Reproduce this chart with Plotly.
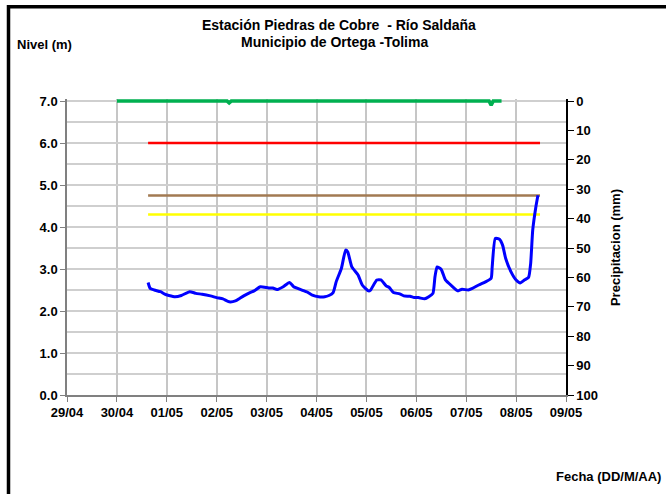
import plotly.graph_objects as go

# ---------------- data ----------------
level_time = [
    "2011-04-30 15:00", "2011-04-30 16:00", "2011-04-30 18:00", "2011-04-30 21:00", "2011-04-30 23:00",
    "2011-05-01 01:00", "2011-05-01 04:00", "2011-05-01 07:00", "2011-05-01 11:00", "2011-05-01 14:00",
    "2011-05-01 17:00", "2011-05-01 21:00",
    "2011-05-02 00:00", "2011-05-02 03:00", "2011-05-02 06:00", "2011-05-02 09:00", "2011-05-02 11:00",
    "2011-05-02 13:00", "2011-05-02 16:00", "2011-05-02 18:00", "2011-05-02 21:00",
    "2011-05-03 01:00", "2011-05-03 03:00", "2011-05-03 05:00", "2011-05-03 08:00", "2011-05-03 11:00",
    "2011-05-03 13:00", "2011-05-03 17:00", "2011-05-03 20:00", "2011-05-03 22:00",
    "2011-05-04 01:00", "2011-05-04 04:00", "2011-05-04 06:00", "2011-05-04 08:00", "2011-05-04 09:30",
    "2011-05-04 12:00", "2011-05-04 14:00", "2011-05-04 15:00", "2011-05-04 17:00", "2011-05-04 20:00",
    "2011-05-04 22:00",
    "2011-05-05 01:00", "2011-05-05 02:00", "2011-05-05 05:00", "2011-05-05 07:00", "2011-05-05 09:30",
    "2011-05-05 11:00", "2011-05-05 13:00", "2011-05-05 16:00", "2011-05-05 18:00", "2011-05-05 21:00",
    "2011-05-05 23:00",
    "2011-05-06 01:00", "2011-05-06 04:00", "2011-05-06 06:00", "2011-05-06 08:00", "2011-05-06 09:00",
    "2011-05-06 10:00", "2011-05-06 12:00", "2011-05-06 14:00", "2011-05-06 17:00", "2011-05-06 20:00",
    "2011-05-06 22:00",
    "2011-05-07 01:00", "2011-05-07 03:00", "2011-05-07 06:00", "2011-05-07 09:30", "2011-05-07 12:00",
    "2011-05-07 12:30", "2011-05-07 14:00", "2011-05-07 16:00", "2011-05-07 17:30", "2011-05-07 19:00",
    "2011-05-07 21:30",
    "2011-05-08 00:00", "2011-05-08 02:00", "2011-05-08 04:00", "2011-05-08 06:00", "2011-05-08 07:00",
    "2011-05-08 08:00", "2011-05-08 09:30", "2011-05-08 10:30",
]
level_m = [
    2.68, 2.54, 2.50, 2.46, 2.40,
    2.37, 2.34, 2.37, 2.46, 2.42, 2.40, 2.36,
    2.32, 2.29, 2.22, 2.24, 2.30, 2.36, 2.44, 2.48, 2.58,
    2.55, 2.55, 2.51, 2.58, 2.68, 2.58, 2.50, 2.44, 2.38,
    2.34, 2.34, 2.37, 2.44, 2.70, 3.02, 3.45, 3.41, 3.05, 2.86, 2.62,
    2.48, 2.50, 2.74, 2.74, 2.60, 2.56, 2.44, 2.41, 2.36, 2.35, 2.32,
    2.32, 2.29, 2.34, 2.42, 2.82, 3.05, 2.99, 2.74, 2.60, 2.48, 2.52,
    2.50, 2.54, 2.62, 2.70, 2.78, 3.05, 3.73, 3.71, 3.57, 3.25, 2.94,
    2.74, 2.67, 2.74, 2.80, 3.13, 3.93, 4.48, 4.76,
]

precip_time = [
    "2011-04-30 00:00", "2011-05-02 05:00", "2011-05-02 06:00", "2011-05-02 07:00",
    "2011-05-07 11:00", "2011-05-07 12:00", "2011-05-07 13:00", "2011-05-07 17:00",
]
precip_mm = [0, 0, 0.6, 0, 0, 1.4, 0, 0]

threshold_time = ["2011-04-30 15:00", "2011-05-08 11:30"]
threshold_red = [6.0, 6.0]
threshold_brown = [4.75, 4.75]
threshold_yellow = [4.3, 4.3]

x_start, x_end = "2011-04-29 00:00", "2011-05-09 00:00"

# ---------------- layout helpers ----------------
W, H = 666, 494
PL, PR, PB = 67, 566, 395        # plot area edges in pixels
Y7 = 101                         # pixel row of the 7.0 / 0 mm line
PAD = 0.05                       # small headroom so the 0 mm line isn't clipped
px_per_m = (PB - Y7) / 7.0
px_per_mm = (PB - Y7) / 100.0
PT = Y7 - PAD * px_per_m


def px_x(px):
    return (px - PL) / (PR - PL)


def px_y(py):
    return (PB - py) / (PB - PT)


FONT = "Liberation Sans, Arial, sans-serif"

fig = go.Figure()

fig.add_trace(go.Scatter(x=threshold_time, y=threshold_red, mode="lines",
                         line=dict(color="#ff0000", width=2.5), showlegend=False))
fig.add_trace(go.Scatter(x=threshold_time, y=threshold_brown, mode="lines",
                         line=dict(color="#a27a52", width=2.5), showlegend=False))
fig.add_trace(go.Scatter(x=threshold_time, y=threshold_yellow, mode="lines",
                         line=dict(color="#ffff00", width=2.5), showlegend=False))
fig.add_trace(go.Scatter(x=level_time, y=level_m, mode="lines",
                         line=dict(color="#0000ff", width=3, shape="spline", smoothing=0.5),
                         showlegend=False))
fig.add_trace(go.Scatter(x=precip_time, y=precip_mm, mode="lines", yaxis="y2",
                         line=dict(color="#00b050", width=3.5), showlegend=False))

tickfont = dict(family=FONT, size=13, color="#000000", weight="bold")

# frame path (left and top edges) in paper coordinates
frame_path = "M {:.5f},{:.5f} L {:.5f},{:.5f} L {:.5f},{:.5f}".format(
    px_x(8.5), px_y(500), px_x(8.5), px_y(6.5), px_x(672), px_y(6.5))

fig.update_layout(
    width=W, height=H,
    margin=dict(l=PL, r=W - PR, t=PT, b=H - PB, pad=0),
    paper_bgcolor="white", plot_bgcolor="white",
    font=dict(family=FONT, size=13, color="#000000"),
    xaxis=dict(
        type="date", range=[x_start, x_end], dtick=86400000, tick0="2011-04-29",
        tickformat="%d/%m", tickfont=tickfont,
        showgrid=True, gridcolor="#c6c6c6", gridwidth=1.5,
        showline=True, linecolor="#808080", linewidth=1.5,
        ticks="outside", ticklen=5, tickcolor="#808080", tickwidth=1,
        zeroline=False,
    ),
    yaxis=dict(
        range=[0, 7 + PAD], dtick=1, tick0=0, tickformat=".1f", tickfont=tickfont,
        showgrid=True, gridcolor="#cfcfcf", gridwidth=1.5,
        minor=dict(dtick=0.5, tick0=0, showgrid=True, gridcolor="#cfcfcf", gridwidth=1.5, ticks=""),
        showline=True, linecolor="#808080", linewidth=1.5,
        ticks="outside", ticklen=5, tickcolor="#808080", tickwidth=1,
        zeroline=False,
    ),
    yaxis2=dict(
        overlaying="y", side="right", range=[100, -PAD * px_per_m / px_per_mm],
        dtick=10, tick0=0,
        tickfont=tickfont, showgrid=False, zeroline=False,
        showline=True, linecolor="#000000", linewidth=1.5,
        ticks="outside", ticklen=6, tickcolor="#000000", tickwidth=1,
    ),
    shapes=[
        dict(type="path", xref="paper", yref="paper", layer="above",
             path=frame_path, line=dict(color="#000000", width=3.5)),
    ],
    annotations=[
        dict(text="<b>Estación Piedras de Cobre  - Río Saldaña</b>", xref="paper", yref="paper",
             x=px_x(339), y=px_y(25), xanchor="center", yanchor="middle", showarrow=False,
             font=dict(family=FONT, size=14)),
        dict(text="<b>Municipio de Ortega -Tolima</b>", xref="paper", yref="paper",
             x=px_x(334), y=px_y(42), xanchor="center", yanchor="middle", showarrow=False,
             font=dict(family=FONT, size=14)),
        dict(text="<b>Nivel (m)</b>", xref="paper", yref="paper",
             x=px_x(44), y=px_y(44), xanchor="center", yanchor="middle", showarrow=False,
             font=dict(family=FONT, size=13)),
        dict(text="<b>Precipitacion (mm)</b>", xref="paper", yref="paper",
             x=px_x(615), y=px_y(248), xanchor="center", yanchor="middle", showarrow=False,
             textangle=-90, font=dict(family=FONT, size=13)),
        dict(text="<b>Fecha (DD/M/AA)</b>", xref="paper", yref="paper",
             x=px_x(608), y=px_y(477), xanchor="center", yanchor="middle", showarrow=False,
             font=dict(family=FONT, size=13)),
    ],
)

post_js = (
    "document.body.style.margin='0px';"
    "document.body.style.overflow='hidden';"
    "var fr=document.createElement('div');"
    "fr.style.cssText='position:absolute;left:7px;top:5px;width:659px;height:3px;"
    "background:#000;z-index:50;pointer-events:none;';"
    "document.body.appendChild(fr);"
)

fig.write_html("out.html", config={"displayModeBar": False}, post_script=post_js)
